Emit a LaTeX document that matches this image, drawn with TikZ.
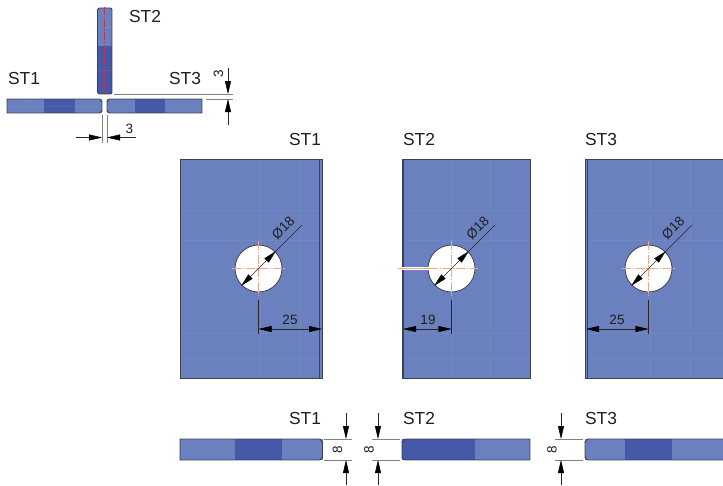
\documentclass[tikz,border=0pt]{standalone}
\usepackage{fontspec}
\setmainfont{Liberation Sans}
\usetikzlibrary{arrows.meta}
\definecolor{plateblue}{HTML}{6B80BE}
\definecolor{darkblue}{HTML}{4659A8}
\definecolor{edgegrey}{HTML}{3C4250}
\definecolor{centre}{HTML}{F6A48C}
\tikzset{
  part/.style={fill=plateblue,draw=none},
  darkpart/.style={fill=darkblue,draw=none},
  outline/.style={draw=edgegrey,line width=.9pt},
  gridline/.style={draw=white,opacity=.05,line width=.8pt},
  extlight/.style={draw=black!50,line width=.45pt},
  extdark/.style={draw=black!85,line width=.45pt},
  dimline/.style={draw=black!85,line width=.45pt,-{Triangle[length=13pt,width=6pt,color=black]}},
  dimdouble/.style={draw=black!85,line width=.45pt,{Triangle[length=13pt,width=6pt,color=black]}-{Triangle[length=13pt,width=6pt,color=black]}},
  partname/.style={font=\fontsize{17.4pt}{20pt}\selectfont,text=black!88,inner sep=0pt},
  dimtext/.style={font=\fontsize{13.5pt}{15pt}\selectfont,text=black!88,inner sep=0pt},
  axis/.style={draw=centre,line width=.4pt,dash pattern=on 9pt off 1.5pt on 1.5pt off 1.5pt},
  hole/.style={circle,minimum size=47pt,inner sep=0pt,fill=white,draw=edgegrey,line width=.8pt}
}
\begin{document}
\begin{tikzpicture}[x=1pt,y=-1pt]
\useasboundingbox[fill=white] (0,0) rectangle (723,485);

% ---------- small section at top left
\fill[part] (97.5,8) rectangle (112,46);
\fill[darkpart] (97.5,46) rectangle (112,94);
\draw[outline,rounded corners=1.5pt] (97.5,8) -- (112,8) -- (112,94) -- (97.5,94) -- cycle;
\draw[draw=red!60!plateblue,line width=.3pt,dash pattern=on 8pt off 1.5pt on 1.5pt off 1.5pt] (104.5,7) -- (104.5,94);

\fill[part] (7,99) rectangle (102,113);
\fill[darkpart] (44,99) rectangle (75,113);
\draw[gridline] (26,99) -- (26,113) (7,106) -- (102,106) (107,106) -- (202,106) (97.5,27) -- (112,27) (97.5,70) -- (112,70);
\draw[outline] (7,99) -- (99.5,99) to[out=0,in=-90] (102,101.5) -- (102,110.5) to[out=90,in=0] (99.5,113) -- (7,113) -- cycle;

\fill[part] (107,99) rectangle (202,113);
\fill[darkpart] (134.5,99) rectangle (165,113);
\draw[outline] (202,99) -- (109.5,99) to[out=180,in=-90] (107,101.5) -- (107,110.5) to[out=90,in=180] (109.5,113) -- (202,113) -- cycle;

\coordinate (gapL) at (102,115);
\coordinate (gapR) at (107,115);
\coordinate (gapLb) at (102,143);
\coordinate (gapRb) at (107,143);
\draw[extlight] (gapL) -- (gapLb) (gapR) -- (gapRb);
\coordinate (gapA) at (76,137.5);
\coordinate (gapAe) at (102,137.5);
\coordinate (gapB) at (136,137.5);
\coordinate (gapBe) at (107,137.5);
\draw[dimline] (gapA) -- (gapAe);
\draw[dimline] (gapB) -- (gapBe);
\node[dimtext] (gaplabel) at (129.5,129) {3};

\coordinate (stepT) at (114,94);
\coordinate (stepTe) at (233,94);
\coordinate (stepB) at (206,99);
\coordinate (stepBe) at (233,99);
\draw[extlight] (stepT) -- (stepTe) (stepB) -- (stepBe);
\coordinate (stepA) at (228,68);
\coordinate (stepAe) at (228,94);
\coordinate (stepC) at (228,125);
\coordinate (stepCe) at (228,99);
\draw[dimline] (stepA) -- (stepAe);
\draw[dimline] (stepC) -- (stepCe);
\node[dimtext,rotate=90] (steplabel) at (218.5,73.5) {3};

\node[partname] (nameA) at (24,79) {ST1};
\node[partname] (nameB) at (145,17) {ST2};
\node[partname] (nameC) at (185,79) {ST3};

% ---------- plate ST1
\fill[part] (180,159) rectangle (322,378);
\draw[gridline] (180,240) -- (320,240) (180,333) -- (320,333) (180,358) -- (320,358) (180,210) -- (320,210) (260,159) -- (260,378) (300,159) -- (300,378);
\draw[outline] (180,159) rectangle (322,378);
\draw[draw=edgegrey,line width=.6pt] (319.7,159) -- (319.7,378);
\node[hole] (holeA) at (258.5,268.5) {};
\draw[axis] (258.5,241) -- (258.5,296) (232,268.5) -- (285,268.5);
\node[partname] (plateNameA) at (305,140) {ST1};

% ---------- plate ST2
\fill[part] (402,159) rectangle (530,378);
\draw[gridline] (402,240) -- (530,240) (402,333) -- (530,333) (402,358) -- (530,358) (402,210) -- (530,210) (452,159) -- (452,378) (490,159) -- (490,378);
\draw[outline] (402,159) rectangle (530,378);
\draw[draw=edgegrey,line width=1.4pt] (403,159) -- (403,378);
\node[hole] (holeB) at (451.5,268.5) {};
\fill[white] (401,267.4) rectangle (429,269.6);
\draw[draw=centre,line width=.6pt] (398,268.5) -- (429,268.5);
\draw[axis] (451.5,241) -- (451.5,296) (429,268.5) -- (478,268.5);
\node[partname] (plateNameB) at (419,140) {ST2};

% ---------- plate ST3
\fill[part] (585,159) rectangle (723,378);
\draw[gridline] (585,240) -- (723,240) (585,333) -- (723,333) (585,358) -- (723,358) (585,210) -- (723,210) (650,159) -- (650,378) (690,159) -- (690,378);
\draw[outline] (723,159) -- (585,159) -- (585,378) -- (723,378);
\draw[draw=edgegrey,line width=.6pt] (587,159) -- (587,378);
\node[hole] (holeC) at (648.5,268.5) {};
\draw[axis] (648.5,241) -- (648.5,296) (622,268.5) -- (675,268.5);
\node[partname] (plateNameC) at (601,140) {ST3};

% ---------- diameters
\coordinate (leadA) at (302,225);
\coordinate (leadB) at (495,225);
\coordinate (leadC) at (692,225);
\draw[dimdouble,shorten <=-.5pt,shorten >=-.5pt] (holeA.225) -- (holeA.45);
\draw[extdark] (holeA.45) -- (leadA);
\draw[dimdouble,shorten <=-.5pt,shorten >=-.5pt] (holeB.225) -- (holeB.45);
\draw[extdark] (holeB.45) -- (leadB);
\draw[dimdouble,shorten <=-.5pt,shorten >=-.5pt] (holeC.225) -- (holeC.45);
\draw[extdark] (holeC.45) -- (leadC);
\node[dimtext,rotate=45] (diaA) at (283,228) {Ø18};
\node[dimtext,rotate=45] (diaB) at (477.5,228) {Ø18};
\node[dimtext,rotate=45] (diaC) at (673,228) {Ø18};

% ---------- plate dimensions
\coordinate (extA) at (258.5,300);
\coordinate (extAe) at (258.5,334);
\draw[extdark] (extA) -- (extAe);
\coordinate (dimAl) at (258.5,329);
\coordinate (dimAr) at (322,329);
\draw[dimdouble] (dimAl) -- (dimAr);
\node[dimtext] (dimtxtA) at (290,320) {25};

\coordinate (extB) at (451.5,300);
\coordinate (extBe) at (451.5,334);
\draw[extdark] (extB) -- (extBe);
\coordinate (dimBl) at (403,329);
\coordinate (dimBr) at (451.5,329);
\draw[dimdouble] (dimBl) -- (dimBr);
\node[dimtext] (dimtxtB) at (428,320) {19};

\coordinate (extC) at (648.5,300);
\coordinate (extCe) at (648.5,334);
\draw[extdark] (extC) -- (extCe);
\coordinate (dimCl) at (586,329);
\coordinate (dimCr) at (648.5,329);
\draw[dimdouble] (dimCl) -- (dimCr);
\node[dimtext] (dimtxtC) at (617,320) {25};

% ---------- bottom edge views
\fill[part] (180,439) rectangle (322.5,460);
\fill[darkpart] (235,439) rectangle (282,460);
\draw[outline] (180,439) -- (319.5,439) to[out=0,in=-90] (322.5,442) -- (322.5,457) to[out=90,in=0] (319.5,460) -- (180,460) -- cycle;
\node[partname] (edgeNameA) at (305,419) {ST1};

\fill[part] (402,439) rectangle (530,460);
\fill[darkpart] (402,439) rectangle (475,460);
\draw[outline] (405,439) -- (530,439) -- (530,460) -- (405,460) to[out=180,in=90] (402,457) -- (402,442) to[out=-90,in=180] cycle;
\node[partname] (edgeNameB) at (419,419) {ST2};

\fill[part] (585,439) rectangle (723,460);
\fill[darkpart] (625,439) rectangle (672,460);
\draw[outline] (723,439) -- (588,439) to[out=180,in=-90] (585,442) -- (585,457) to[out=90,in=180] (588,460) -- (723,460);
\node[partname] (edgeNameC) at (601,419) {ST3};

% ---------- bottom dimensions
\coordinate (eA1) at (324,439);
\coordinate (eA1e) at (352,439);
\coordinate (eA2) at (324,460);
\coordinate (eA2e) at (352,460);
\draw[extlight] (eA1) -- (eA1e) (eA2) -- (eA2e);
\coordinate (vA1) at (346,413);
\coordinate (vA1e) at (346,439);
\coordinate (vA2) at (346,485);
\coordinate (vA2e) at (346,460);
\draw[dimline] (vA1) -- (vA1e);
\draw[dimline] (vA2) -- (vA2e);
\node[dimtext,rotate=90] (edgeDimA) at (337.5,449.5) {8};

\coordinate (eB1) at (372,439);
\coordinate (eB1e) at (400,439);
\coordinate (eB2) at (372,460);
\coordinate (eB2e) at (400,460);
\draw[extlight] (eB1) -- (eB1e) (eB2) -- (eB2e);
\coordinate (vB1) at (378,413);
\coordinate (vB1e) at (378,439);
\coordinate (vB2) at (378,485);
\coordinate (vB2e) at (378,460);
\draw[dimline] (vB1) -- (vB1e);
\draw[dimline] (vB2) -- (vB2e);
\node[dimtext,rotate=90] (edgeDimB) at (369,449.5) {8};

\coordinate (eC1) at (555,439);
\coordinate (eC1e) at (583,439);
\coordinate (eC2) at (555,460);
\coordinate (eC2e) at (583,460);
\draw[extlight] (eC1) -- (eC1e) (eC2) -- (eC2e);
\coordinate (vC1) at (561,413);
\coordinate (vC1e) at (561,439);
\coordinate (vC2) at (561,485);
\coordinate (vC2e) at (561,460);
\draw[dimline] (vC1) -- (vC1e);
\draw[dimline] (vC2) -- (vC2e);
\node[dimtext,rotate=90] (edgeDimC) at (552,449.5) {8};
\end{tikzpicture}
\end{document}
